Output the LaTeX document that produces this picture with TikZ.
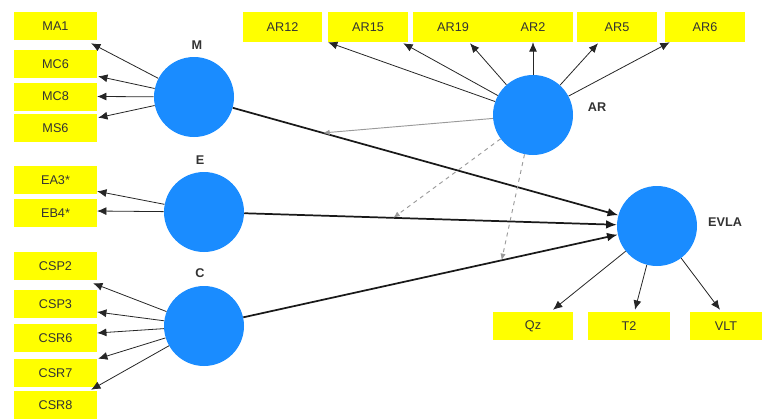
\documentclass[tikz,border=0pt]{standalone}
\usepackage{fontspec}
\setmainfont{Liberation Sans}
\usetikzlibrary{arrows.meta,calc}
\definecolor{boxyellow}{HTML}{FFFF00}
\definecolor{lvblue}{HTML}{1A8CFF}
\definecolor{modgray}{HTML}{9A9A9A}
\begin{document}
\begin{tikzpicture}[x=0.75pt,y=-0.75pt,
  ibox/.style={fill=boxyellow,draw=none,inner sep=0pt,minimum width=62pt,minimum height=21pt,font=\fontsize{9.5}{10}\selectfont,text=black!80},
  tbox/.style={ibox,minimum width=60pt,minimum height=22.5pt},
  lv/.style={circle,fill=lvblue,draw=none,minimum size=60pt,inner sep=0pt},
  lvlabel/.style={font=\fontsize{9.5}{10}\selectfont\bfseries,text=black!80},
  ind/.style={draw=black!85,line width=0.6pt,-{Latex[length=7pt,width=6pt]}},
  path/.style={draw=black!90,line width=1.3pt,-{Latex[length=8pt,width=6.5pt]}},
  mod/.style={draw=modgray,line width=0.7pt,-{Latex[length=5pt,width=4pt]}},
  moddash/.style={mod,dashed}
]
\useasboundingbox (0,0) rectangle (763,418);
% left indicator boxes
\node[ibox] (MA1) at (55.5,26) {MA1};
\node[ibox] (MC6) at (55.5,64) {MC6};
\node[ibox] (MC8) at (55.5,96.5) {MC8};
\node[ibox] (MS6) at (55.5,128) {MS6};
\node[ibox] (EA3) at (55.5,180) {EA3*};
\node[ibox] (EB4) at (55.5,213) {EB4*};
\node[ibox] (CSP2) at (55.5,266) {CSP2};
\node[ibox] (CSP3) at (55.5,304) {CSP3};
\node[ibox] (CSR6) at (55.5,338) {CSR6};
\node[ibox] (CSR7) at (55.5,373) {CSR7};
\node[ibox] (CSR8) at (55.5,405) {CSR8};
% top indicator boxes
\node[tbox,minimum width=59pt] (AR12) at (282.5,27) {AR12};
\node[tbox] (AR15) at (368,27) {AR15};
\node[tbox] (AR19) at (453,27) {AR19};
\node[tbox] (AR2) at (533,27) {AR2};
\node[tbox] (AR5) at (617,27) {AR5};
\node[tbox] (AR6) at (705,27) {AR6};
% bottom indicator boxes
\node[ibox,minimum width=60pt] (Qz) at (533,326) {Qz};
\node[ibox,minimum width=61.5pt] (T2) at (629,326) {T2};
\node[ibox,minimum width=54pt] (VLT) at (726,326) {VLT};
% latent variables
\node[lv] (M) at (194,97) {};
\node[lv] (E) at (204,212) {};
\node[lv] (C) at (204,326) {};
\node[lv] (AR) at (533,115) {};
\node[lv] (EVLA) at (657,226) {};
\node[lvlabel] (Ml) at (197,45) {M};
\node[lvlabel] (El) at (200,160) {E};
\node[lvlabel] (Cl) at (200,273) {C};
\node[lvlabel] (ARl) at (597,107) {AR};
\node[lvlabel] (EVLAl) at (725,222) {EVLA};
% structural paths
\draw[path] (M) -- coordinate[pos=0.234] (mM) (EVLA);
\draw[path] (E) -- coordinate[pos=0.40] (mE) (EVLA);
\draw[path] (C) -- coordinate[pos=0.69] (mC) (EVLA);
% moderation
\draw[mod] (AR) -- (mM);
\draw[moddash] (AR) -- (mE);
\draw[moddash] (AR) -- (mC);
% M indicators
\draw[ind] (M) -- ($(MA1.south east)+(-6,3)$);
\draw[ind] (M) -- ($(MC6.south east)+(1,-2)$);
\draw[ind] (M) -- ($(MC8.east)+(0,0)$);
\draw[ind] (M) -- ($(MS6.north east)+(1,4)$);
% E indicators
\draw[ind] (E) -- ($(EA3.south east)+(0,-3)$);
\draw[ind] (E) -- ($(EB4.east)+(0,-2)$);
% C indicators
\draw[ind] (C) -- ($(CSP2.south east)+(-4,3)$);
\draw[ind] (C) -- ($(CSP3.east)+(0,8)$);
\draw[ind] (C) -- ($(CSR6.east)+(0,-5)$);
\draw[ind] (C) -- ($(CSR7.north east)+(1,0)$);
\draw[ind] (C) -- ($(CSR8.north east)+(-6,-1)$);
% AR indicators
\draw[ind] (AR) -- ($(AR12.south east)+(6,0)$);
\draw[ind] (AR) -- ($(AR15.south east)+(-5,1)$);
\draw[ind] (AR) -- ($(AR19.south)+(17,1)$);
\draw[ind] (AR) -- (AR2.south);
\draw[ind] (AR) -- ($(AR5.south)+(-19,1)$);
\draw[ind] (AR) -- ($(AR6.south west)+(5,0)$);
% EVLA indicators
\draw[ind] (EVLA) -- ($(Qz.north)+(20,-2)$);
\draw[ind] (EVLA) -- ($(T2.north)+(6,-2)$);
\draw[ind] (EVLA) -- ($(VLT.north)+(-6,-2)$);
\end{tikzpicture}
\end{document}
